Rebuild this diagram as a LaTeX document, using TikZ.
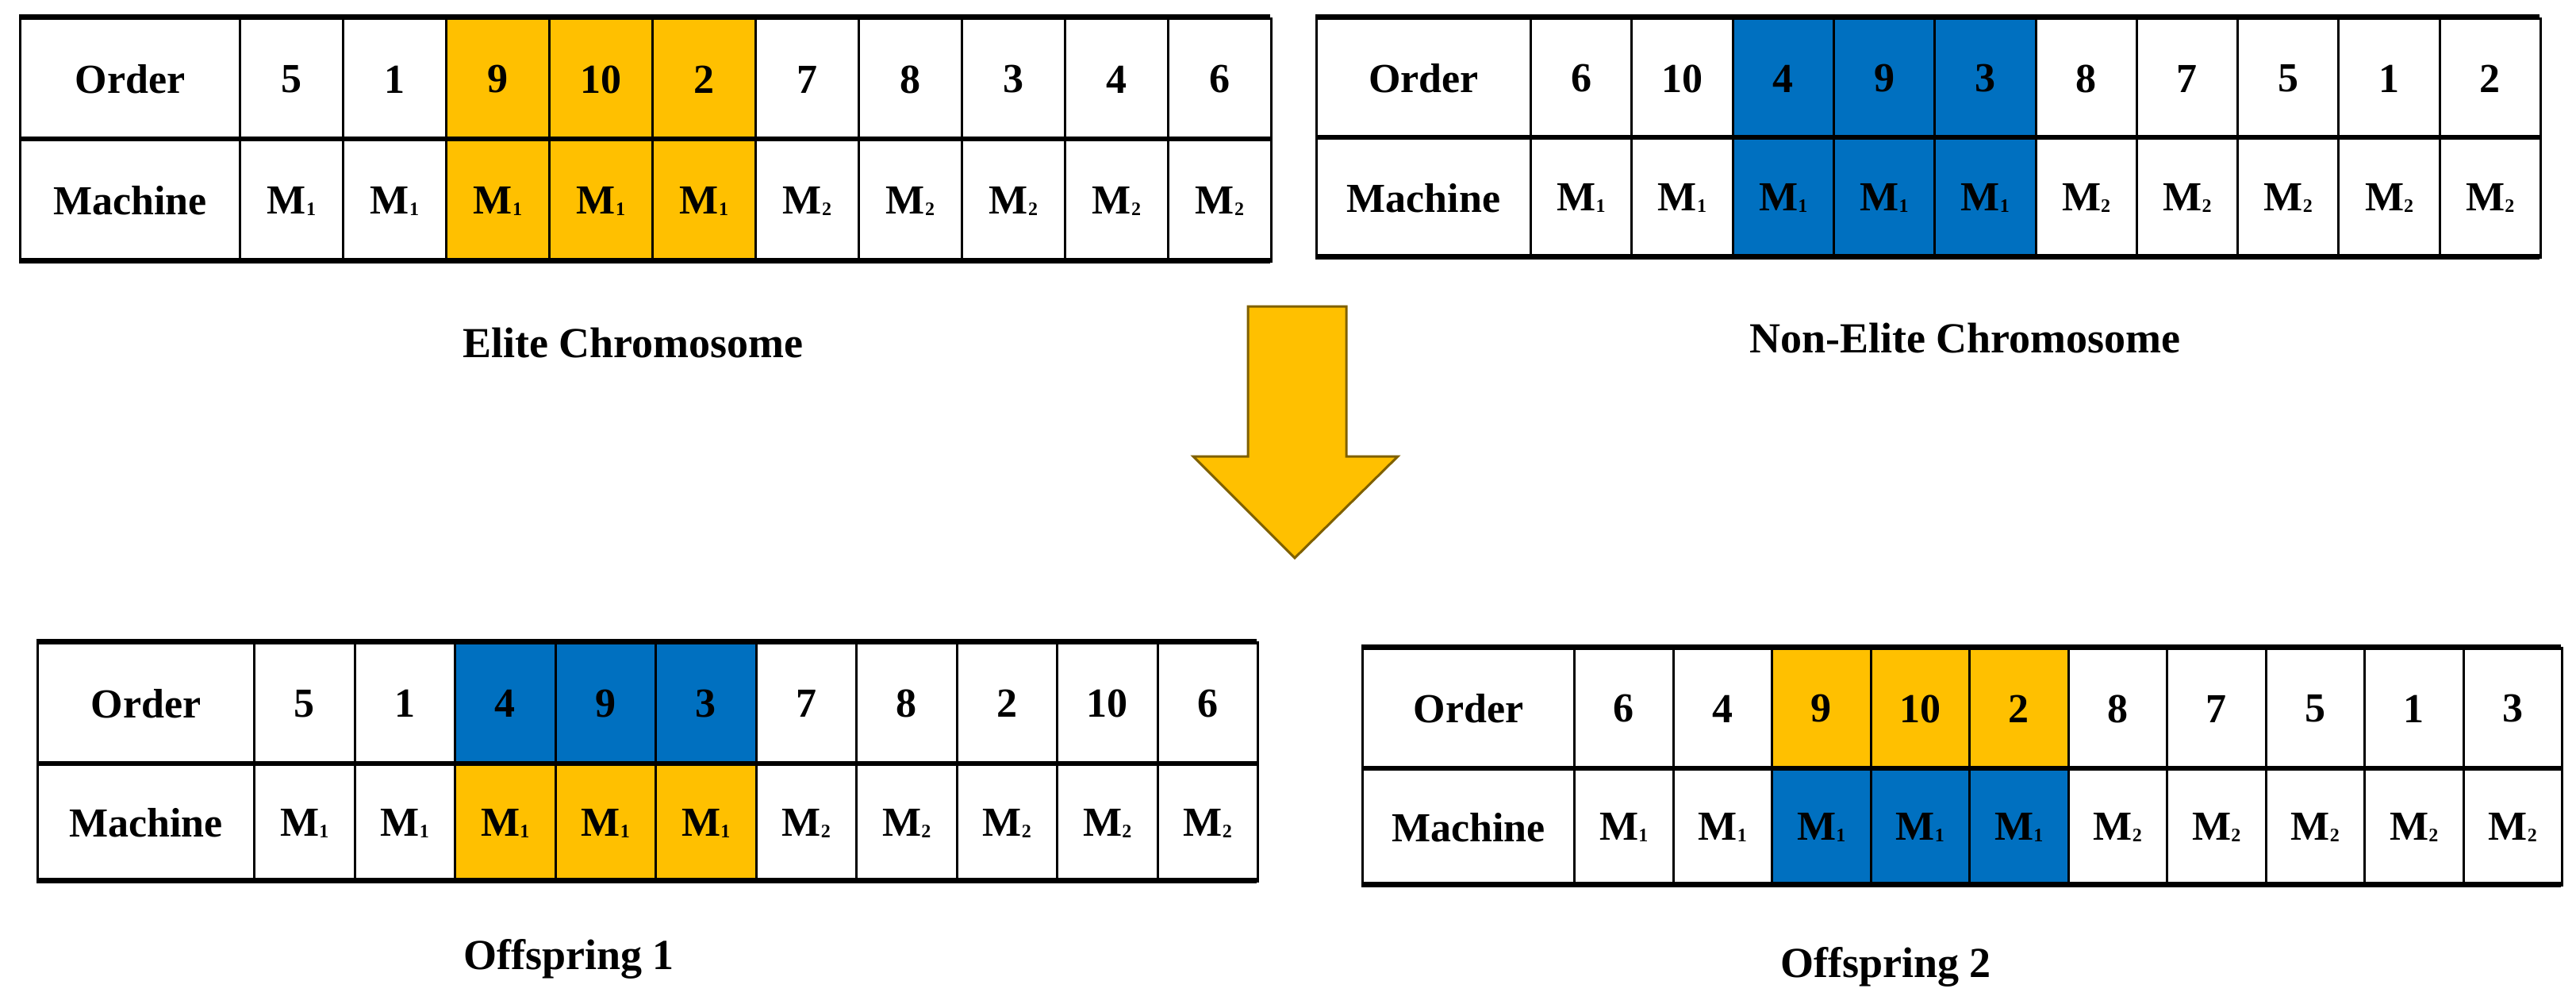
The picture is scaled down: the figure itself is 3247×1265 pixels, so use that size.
\documentclass[tikz,border=0pt]{standalone}
\usepackage{fontspec}
\setmainfont{Liberation Serif}
\definecolor{gold}{HTML}{FFC000}
\definecolor{cblue}{HTML}{0070C0}
\definecolor{aedge}{HTML}{7F6000}
\newcommand\Msub[1]{M\raisebox{-2pt}{\fontsize{24}{24}\selectfont #1}}
\newcommand\chromo[8]{% name, x0, x1, w, ytop, ysplit, ybot, list
  \pgfmathsetmacro\hA{#6-#5}\pgfmathsetmacro\hB{#7-#6}\pgfmathsetmacro\lw{#3-#2}
  \node[cell,minimum width=\lw pt,minimum height=\hA pt] (#1oh) at (#2,#5) {Order};
  \node[cell,minimum width=\lw pt,minimum height=\hB pt] (#1mh) at (#2,#6) {Machine};
  \foreach \v/\m/\ft/\fb [count=\i] in {#8} {
    \node[cell,fill=\ft,minimum width=#4pt,minimum height=\hA pt] (#1o\i) at ({#3+(\i-1)*#4},#5) {\v};
    \node[cell,fill=\fb,minimum width=#4pt,minimum height=\hB pt] (#1m\i) at ({#3+(\i-1)*#4},#6) {\Msub{\m}};
  }
  \draw[line width=7pt] (#2,#5) -- ({#3+10*#4},#5);
  \draw[line width=6pt] (#2,#6) -- ({#3+10*#4},#6);
  \draw[line width=7pt] (#2,#7) -- ({#3+10*#4},#7);
}
\begin{document}
\begin{tikzpicture}[x=1pt,y=-1pt,
  cell/.style={draw,line width=3pt,anchor=north west,inner sep=0pt,font=\fontsize{52}{56}\selectfont\bfseries},
  captxt/.style={font=\fontsize{54}{58}\selectfont\bfseries}]
\useasboundingbox (0,0) rectangle (3247,1265);
\chromo{e}{24}{301}{130}{22}{175}{328}{5/1/white/white,1/1/white/white,9/1/gold/gold,10/1/gold/gold,2/1/gold/gold,7/2/white/white,8/2/white/white,3/2/white/white,4/2/white/white,6/2/white/white}
\chromo{n}{1658}{1928}{127.3}{22}{173}{323}{6/1/white/white,10/1/white/white,4/1/cblue/cblue,9/1/cblue/cblue,3/1/cblue/cblue,8/2/white/white,7/2/white/white,5/2/white/white,1/2/white/white,2/2/white/white}
\chromo{a}{46}{319}{126.5}{808}{962}{1109}{5/1/white/white,1/1/white/white,4/1/cblue/gold,9/1/cblue/gold,3/1/cblue/gold,7/2/white/white,8/2/white/white,2/2/white/white,10/2/white/white,6/2/white/white}
\chromo{b}{1716}{1983}{124.5}{815}{968}{1114}{6/1/white/white,4/1/white/white,9/1/gold/cblue,10/1/gold/cblue,2/1/gold/cblue,8/2/white/white,7/2/white/white,5/2/white/white,1/2/white/white,3/2/white/white}
\node[captxt] (le) at (798,432) {Elite Chromosome};
\node[captxt] (ln) at (2477,426) {Non-Elite Chromosome};
\node[captxt] (la) at (717,1208) {Offspring 1};
\node[captxt] (lb) at (2377,1218) {Offspring 2};
\filldraw[fill=gold,draw=aedge,line width=3pt,line join=miter]
  (1573,386) -- (1697,386) -- (1697,575) -- (1762,575) -- (1632,703) -- (1504,575) -- (1573,575) -- cycle;
\end{tikzpicture}
\end{document}
